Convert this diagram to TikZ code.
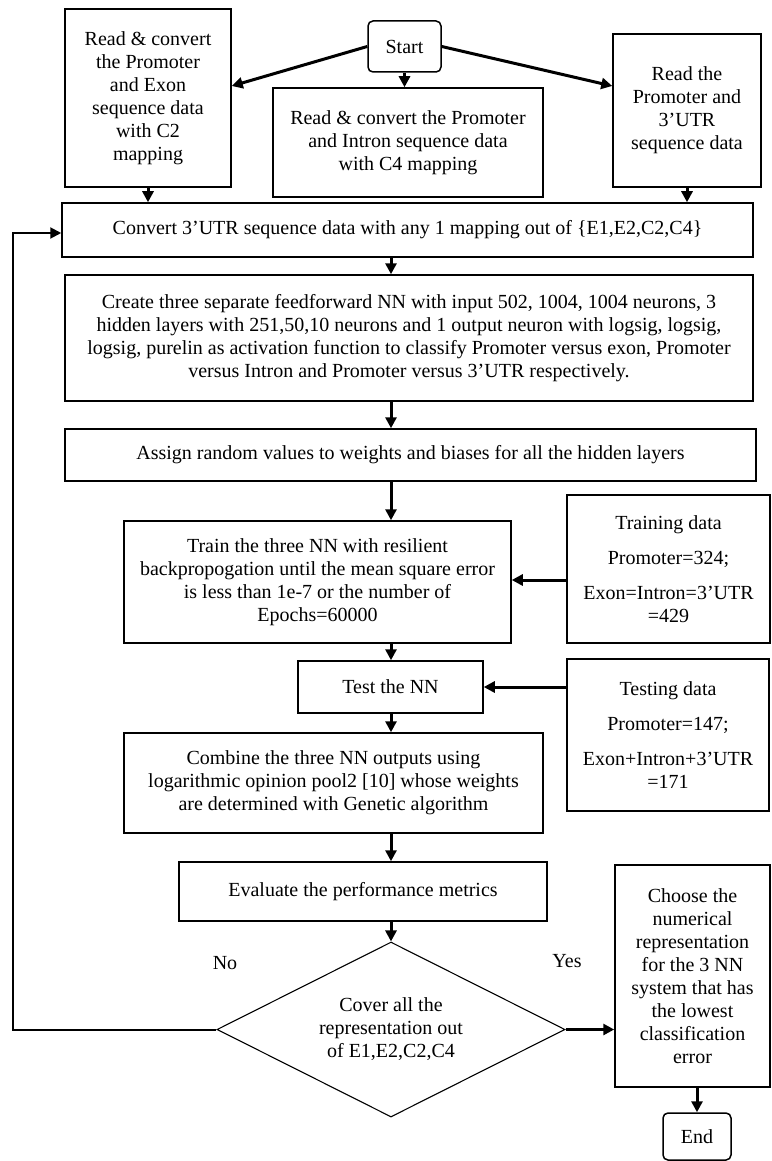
\documentclass[tikz,border=0pt]{standalone}
\usepackage{fontspec}
\setmainfont{Liberation Serif}
\usetikzlibrary{shapes.geometric,arrows.meta}

\tikzset{
  box/.style={draw, line width=1.5pt, rectangle, inner sep=0pt, align=center,
              font=\fontsize{20}{23}\selectfont},
  term/.style={box, rounded corners=5pt},
  decision/.style={draw, line width=1.1pt, diamond, shape aspect=2, inner sep=0pt,
              align=center, font=\fontsize{20}{23}\selectfont},
  arr/.style={line width=3pt, -{Triangle[length=11pt,width=11pt]}},
  back/.style={line width=2pt, -{Triangle[length=11pt,width=11pt]}},
  lbl/.style={font=\fontsize{20}{23}\selectfont, inner sep=0pt}
}

\begin{document}
\begin{tikzpicture}[x=1pt,y=-1pt]
\useasboundingbox[fill=white] (0,0) rectangle (771,1161);

% top row
\node[box, minimum width=166, minimum height=178] (rA) at (148,98)
  {Read \& convert\\the Promoter\\and Exon\\sequence data\\with C2\\mapping};
\node[term, minimum width=73, minimum height=51] (start) at (404.5,46.5) {Start};
\node[box, minimum width=270, minimum height=109] (rB) at (408,142.5)
  {Read \& convert the Promoter\\and Intron sequence data\\with C4 mapping};
\node[box, minimum width=148, minimum height=153] (rC) at (687,110.5)
  {Read the\\Promoter and\\3’UTR\\sequence data};

% main column
\node[box, minimum width=691, minimum height=54] (conv) at (407.5,230)
  {Convert 3’UTR sequence data with any 1 mapping out of \{E1,E2,C2,C4\}};
\node[box, minimum width=688, minimum height=126] (create) at (409,338)
  {Create three separate feedforward NN with input 502, 1004, 1004 neurons, 3\\
   hidden layers with 251,50,10 neurons and 1 output neuron with logsig, logsig,\\
   logsig, purelin as activation function to classify Promoter versus exon, Promoter\\
   versus Intron and Promoter versus 3’UTR respectively.};
\node[box, minimum width=691, minimum height=52] (assign) at (410.5,455)
  {Assign random values to weights and biases for all the hidden layers};
\node[box, minimum width=387, minimum height=122] (train) at (317.5,582)
  {Train the three NN with resilient\\backpropogation until the mean square error\\
   is less than 1e-7 or the number of\\Epochs=60000};
\node[box, minimum width=203, minimum height=148] (trdata) at (668.5,569)
  {Training data\\[12pt]Promoter=324;\\[12pt]Exon=Intron=3’UTR\\=429};
\node[box, minimum width=185, minimum height=52] (test) at (390.5,687) {Test the NN};
\node[box, minimum width=202, minimum height=152] (tedata) at (668,735)
  {Testing data\\[12pt]Promoter=147;\\[12pt]Exon+Intron+3’UTR\\=171};
\node[box, minimum width=419, minimum height=100] (comb) at (333.5,783)
  {Combine the three NN outputs using\\logarithmic opinion pool2 [10] whose weights\\
   are determined with Genetic algorithm};
\node[box, minimum width=368, minimum height=59] (eval) at (363,891.5)
  {Evaluate the performance metrics};
\node[decision, minimum width=348, minimum height=175] (dec) at (391,1029.5)
  {Cover all the\\representation out\\of E1,E2,C2,C4};
\node[box, minimum width=155, minimum height=222] (choose) at (692.5,976)
  {Choose the\\numerical\\representation\\for the 3 NN\\system that has\\the lowest\\
   classification\\error};
\node[term, minimum width=68, minimum height=47] (end) at (697,1136.5) {End};

\node[lbl] (no) at (225,963) {No};
\node[lbl] (yes) at (567,961) {Yes};

% connectors
\draw[arr] (start.west) -- ([yshift=12pt]rA.east);
\draw[arr] (start.east) -- ([yshift=24.5pt]rC.west);
\draw[arr] (start.south) -- (start.south |- rB.north);
\draw[arr] (rA.south) -- (rA.south |- conv.north);
\draw[arr] (rC.south) -- (rC.south |- conv.north);
\draw[arr] (conv.south -| dec.north) -- (create.north -| dec.north);
\draw[arr] (create.south -| dec.north) -- (assign.north -| dec.north);
\draw[arr] (assign.south -| dec.north) -- (train.north -| dec.north);
\draw[arr] (train.south -| dec.north) -- (test.north -| dec.north);
\draw[arr] (test.south -| dec.north) -- (comb.north -| dec.north);
\draw[arr] (comb.south -| dec.north) -- (eval.north -| dec.north);
\draw[arr] (eval.south -| dec.north) -- (dec.north);
\draw[arr] ([yshift=-11pt]trdata.west) -- ([yshift=-11pt]trdata.west -| train.east);
\draw[arr] (tedata.west |- test.east) -- (test.east);
\draw[arr] (dec.east) -- (dec.east -| choose.west);
\draw[arr] (choose.south -| end.north) -- (end.north);

% loop back for the next mapping
\coordinate (loop) at (13,1029.5);
\draw[back] (dec.west) -- (loop) |- ([yshift=-3pt]conv.west);
\end{tikzpicture}
\end{document}
